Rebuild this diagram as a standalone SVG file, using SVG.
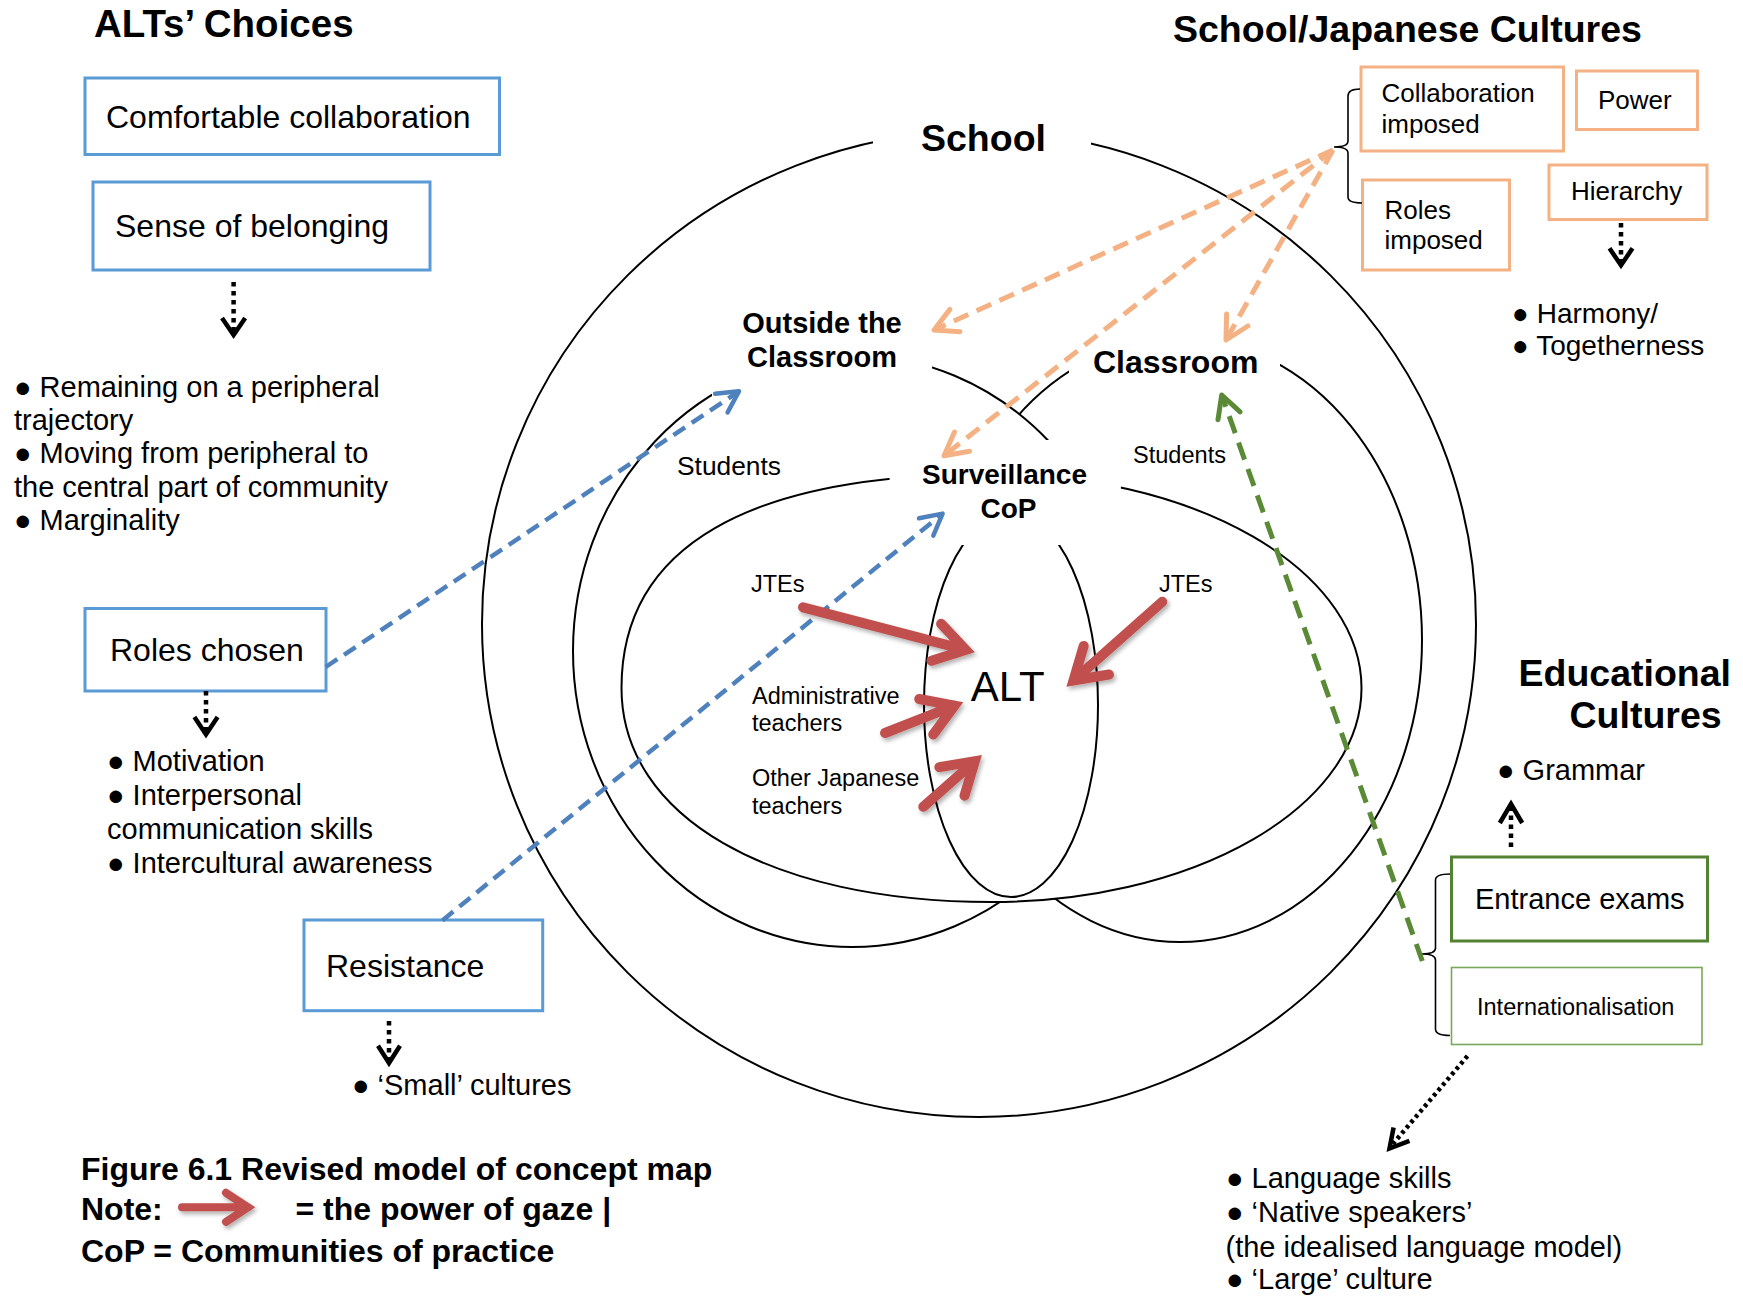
<svg xmlns="http://www.w3.org/2000/svg" width="1743" height="1297" viewBox="0 0 1743 1297">
<defs>
<style>
text { font-family: "Liberation Sans", Arial, sans-serif; fill: #000; }
.h1 { font-size: 37.5px; font-weight: bold; }
.bt { font-size: 32px; }
.li { font-size: 29px; }
.ot { font-size: 26px; }
.lb { font-size: 23.5px; }
.bold { font-weight: bold; }
.cap { font-size: 32px; font-weight: bold; }
.bbox { fill: #fff; stroke: #5b9bd5; stroke-width: 3; }
.obox { fill: #fff; stroke: #f4b183; stroke-width: 3; }
.ring { fill: #fff; stroke: #000; stroke-width: 2; }
.open { fill: none; stroke: #000; stroke-width: 2; }
.gap { fill: #fff; stroke: none; }
.brace { fill: none; stroke: #000; stroke-width: 1.6; }
.dot { fill: none; stroke: #000; stroke-width: 4.5; stroke-dasharray: 4.5 4.5; }
.dot2 { fill: none; stroke: #000; stroke-width: 4.5; stroke-dasharray: 3.5 3.5; }
.khead { fill: none; stroke: #000; stroke-width: 4.5; stroke-linejoin: miter; }
.blue { fill: none; stroke: #4f81bd; stroke-width: 4.5; stroke-dasharray: 14 8; }
.bhead { fill: none; stroke: #4f81bd; stroke-width: 4.5; stroke-linejoin: round; stroke-linecap: round; }
.orange { fill: none; stroke: #f4b183; stroke-width: 5; stroke-dasharray: 16 9; }
.ohead { fill: none; stroke: #f4b183; stroke-width: 5; stroke-linejoin: round; stroke-linecap: round; }
.green { fill: none; stroke: #5a8a35; stroke-width: 5; stroke-dasharray: 18 10; }
.ghead { fill: none; stroke: #5a8a35; stroke-width: 5; stroke-linejoin: round; stroke-linecap: round; }
.gaze { fill: none; stroke: #c0504d; stroke-width: 10; stroke-linecap: round; stroke-linejoin: miter; stroke-miterlimit: 10; }
</style>
<filter id="soft" x="-30%" y="-30%" width="160%" height="160%">
<feDropShadow dx="2" dy="3" stdDeviation="2" flood-color="#000" flood-opacity="0.3"/>
</filter>
</defs>

<rect width="1743" height="1297" fill="#fff"/>

<!-- nested community shapes -->
<g id="school">
<ellipse class="open" cx="979" cy="624" rx="497" ry="493"/>
<rect class="gap" x="873" y="100" width="218" height="62"/>
<text class="h1" x="921" y="151">School</text>
</g>

<g id="classroom">
<ellipse class="ring" cx="1180" cy="640" rx="242" ry="302"/>
</g>

<g id="outside-classroom">
<ellipse class="ring" cx="852" cy="651" rx="279" ry="296"/>
</g>

<g id="surveillance-cop">
<!-- left half is a little fuller than a true ellipse -->
<path class="ring" d="M991.5,474 C747.3,474 621.5,546.8 621.5,688 C621.5,816.4 769.5,902 991.5,902 A370,214 0 0 0 1361.5,688 A370,214 0 0 0 991.5,474 Z"/>
</g>

<g id="alt">
<ellipse class="open" cx="1011" cy="705" rx="87" ry="192"/>
<text x="970.7" y="700.7" style="font-size:42px">ALT</text>
</g>

<!-- label blocks that interrupt the outlines -->
<g id="outside-label">
<rect class="gap" x="712" y="290" width="220" height="110"/>
<text class="bold" x="822" y="333" text-anchor="middle" style="font-size:29px">Outside the</text>
<text class="bold" x="822" y="367" text-anchor="middle" style="font-size:29px">Classroom</text>
</g>
<g id="classroom-label">
<rect class="gap" x="1069" y="318" width="211" height="68"/>
<text class="bold" x="1093" y="373" style="font-size:32px">Classroom</text>
</g>
<g id="surveillance-label">
<rect class="gap" x="889.6" y="440" width="231.3" height="105"/>
<text class="bold" x="1004.5" y="484" text-anchor="middle" style="font-size:28px">Surveillance</text>
<text class="bold" x="1008.5" y="518" text-anchor="middle" style="font-size:28px">CoP</text>
</g>

<g id="members">
<text x="677" y="475" style="font-size:25px" textLength="104" lengthAdjust="spacingAndGlyphs">Students</text>
<text x="1133" y="463" style="font-size:23px" textLength="93" lengthAdjust="spacingAndGlyphs">Students</text>
<text class="lb" x="751" y="592">JTEs</text>
<text class="lb" x="1159" y="592">JTEs</text>
<text class="lb" x="752" y="704">Administrative</text>
<text class="lb" x="752" y="731">teachers</text>
<text class="lb" x="752" y="786">Other Japanese</text>
<text class="lb" x="752" y="814">teachers</text>
</g>

<!-- ALTs' choices column -->
<text class="h1" x="94" y="37" style="font-size:38.5px">ALTs’ Choices</text>
<g id="comfortable-collaboration">
<rect class="bbox" x="85" y="78" width="414.5" height="76.5"/>
<text class="bt" x="106" y="127.5">Comfortable collaboration</text>
</g>
<g id="sense-of-belonging">
<rect class="bbox" x="93" y="182" width="337" height="88"/>
<text class="bt" x="115" y="237">Sense of belonging</text>
</g>
<g id="belonging-outcomes">
<text class="li" x="14" y="397">● Remaining on a peripheral</text>
<text class="li" x="14" y="430">trajectory</text>
<text class="li" x="14" y="463">● Moving from peripheral to</text>
<text class="li" x="14" y="497">the central part of community</text>
<text class="li" x="14" y="530">● Marginality</text>
</g>
<g id="roles-chosen">
<rect class="bbox" x="85" y="608.5" width="241" height="82.5"/>
<text class="bt" x="110" y="661">Roles chosen</text>
</g>
<g id="roles-outcomes">
<text class="li" x="107" y="771">● Motivation</text>
<text class="li" x="107" y="805">● Interpersonal</text>
<text class="li" x="107" y="839">communication skills</text>
<text class="li" x="107" y="873">● Intercultural awareness</text>
</g>
<g id="resistance">
<rect class="bbox" x="304" y="920" width="238.7" height="90.7"/>
<text class="bt" x="326" y="977">Resistance</text>
</g>
<g id="resistance-outcome">
<text class="li" x="352" y="1095">● ‘Small’ cultures</text>
</g>

<!-- school / Japanese cultures -->
<text class="h1" x="1173" y="42">School/Japanese Cultures</text>
<g id="collaboration-imposed">
<rect class="obox" x="1361" y="67" width="202.5" height="84"/>
<text class="ot" x="1381.5" y="102">Collaboration</text>
<text class="ot" x="1381.5" y="132.5">imposed</text>
</g>
<g id="power">
<rect class="obox" x="1576.5" y="71" width="121" height="58.5"/>
<text class="ot" x="1598" y="108.5">Power</text>
</g>
<g id="roles-imposed">
<rect class="obox" x="1362.5" y="180" width="147" height="90"/>
<text class="ot" x="1384.5" y="218.5">Roles</text>
<text class="ot" x="1384.5" y="248.5">imposed</text>
</g>
<g id="hierarchy">
<rect class="obox" x="1549" y="165" width="158" height="54.5"/>
<text class="ot" x="1571" y="200">Hierarchy</text>
</g>
<g id="hierarchy-outcomes">
<text x="1512" y="323" style="font-size:28px">● Harmony/</text>
<text x="1512" y="355" style="font-size:28px">● Togetherness</text>
</g>

<!-- educational cultures -->
<text class="h1" x="1518.5" y="686">Educational</text>
<text class="h1" x="1569.5" y="728">Cultures</text>
<g id="grammar">
<text class="li" x="1497" y="780">● Grammar</text>
</g>
<g id="entrance-exams">
<rect x="1451.5" y="857" width="256" height="84" fill="#fff" stroke="#548235" stroke-width="3"/>
<text class="li" x="1475" y="909">Entrance exams</text>
</g>
<g id="internationalisation">
<rect x="1451.5" y="967.5" width="250.5" height="77" fill="#fff" stroke="#7aa85a" stroke-width="1.6"/>
<text class="lb" x="1477" y="1015">Internationalisation</text>
</g>
<g id="internationalisation-outcomes">
<text class="li" x="1226" y="1188">● Language skills</text>
<text class="li" x="1226" y="1222">● ‘Native speakers’</text>
<text class="li" x="1225.5" y="1257">(the idealised language model)</text>
<text class="li" x="1226" y="1289">● ‘Large’ culture</text>
</g>

<!-- caption -->
<g id="caption">
<text class="cap" x="81" y="1180">Figure 6.1 Revised model of concept map</text>
<text class="cap" x="81" y="1220">Note:</text>
<text class="cap" x="295.5" y="1220">= the power of gaze |</text>
<text class="cap" x="81" y="1262">CoP = Communities of practice</text>
</g>

<!-- connectors -->
<g id="connectors">
<path class="brace" d="M1360,89 Q1348,89 1348,96 L1348,141 Q1348,147 1334,147 Q1348,147 1348,153 L1348,197 Q1348,203 1362,203"/>
<path class="brace" d="M1450,874 Q1435.5,874 1435.5,880 L1435.5,948 Q1435.5,954 1422,954 Q1435.5,954 1435.5,960 L1435.5,1029 Q1435.5,1035.5 1450,1035.5"/>

<path class="dot" d="M233.6,282 V334"/>
<polyline class="khead" points="222,318 233.6,335 245.2,318"/>
<path class="dot" d="M206,691 V732"/>
<polyline class="khead" points="194.4,717 206,734.5 217.6,717"/>
<path class="dot" d="M389,1021 V1062"/>
<polyline class="khead" points="378,1045.7 389,1063 400,1045.7"/>
<path class="dot" d="M1621,223 V263"/>
<polyline class="khead" points="1609.5,248.3 1621,265.3 1632.5,248.3"/>
<path class="dot" d="M1511,847 V806"/>
<polyline class="khead" points="1499.8,823 1511,804 1522.2,823"/>
<path class="dot2" d="M1467.5,1056 L1392,1145"/>
<polyline class="khead" points="1409.4,1140.8 1389.5,1148.5 1393.6,1127.5"/>

<path class="blue" d="M325.7,667 L739,391.3"/>
<polyline class="bhead" points="715.1,393.7 739,391.3 727.6,412.4"/>
<path class="blue" d="M442.4,920.4 L942.6,513.6"/>
<polyline class="bhead" points="919,518.2 942.6,513.6 933.3,535.7"/>

<path class="orange" d="M1333,150 L934,330"/>
<polyline class="ohead" points="959.9,331.7 934,330 949.9,309.4"/>
<path class="orange" d="M1333,150 L944,455.8"/>
<polyline class="ohead" points="969.6,451.2 944,455.8 954.5,432"/>
<path class="orange" d="M1333,150 L1226,340"/>
<polyline class="ohead" points="1247.9,326 1226,340 1226.6,314"/>

<path class="green" d="M1422.3,961 L1221.7,395"/>
<polyline class="ghead" points="1218,419.7 1221.7,395 1240.1,411.9"/>

<g filter="url(#soft)">
<path class="gaze" d="M803,607.3 L965.7,649.9 M941.1,623.8 L965.7,649.9 L931.5,660.7"/>
<path class="gaze" d="M885,733 L954.5,705.6 M919.2,699 L954.5,705.6 L933.2,734.5"/>
<path class="gaze" d="M923.3,806.7 L974.8,761.3 M939.3,767.1 L974.8,761.3 L964.5,795.7"/>
<path class="gaze" d="M1162.3,601.7 L1073.5,680.4 M1109,674.5 L1073.5,680.4 L1083.7,645.9"/>
<path class="gaze" style="stroke-width:8" d="M182,1207.3 L248,1207.3 M226,1192.8 L248,1207.3 L226,1221.8"/>
</g>
</g>
</svg>
